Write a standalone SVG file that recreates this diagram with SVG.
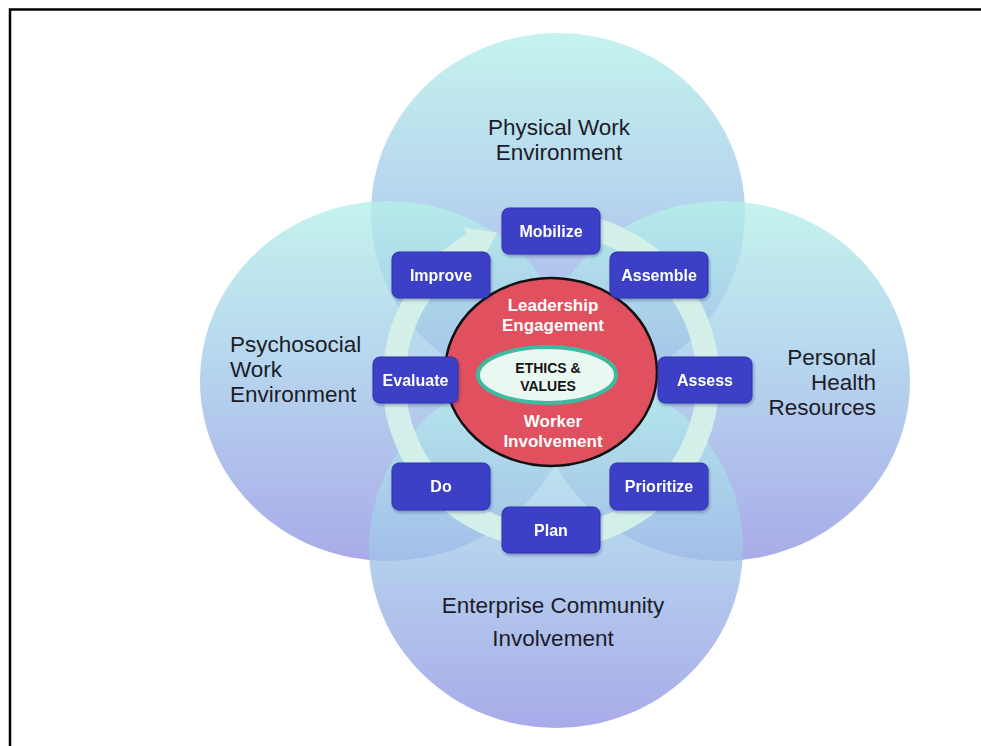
<svg xmlns="http://www.w3.org/2000/svg" width="981" height="746" viewBox="0 0 981 746">
  <style>
    .circ { fill-opacity: 0.8; }
    .lbl { font-family: "Liberation Sans", Arial, sans-serif; font-size: 22.5px; fill: #1c1c28; }
    .box rect { fill: #3a40c6; stroke: #2e33a8; stroke-width: 1; }
    .box text { font-family: "Liberation Sans", Arial, sans-serif; font-size: 16px; font-weight: bold; fill: #ffffff; text-anchor: middle; }
    .ctr { font-family: "Liberation Sans", Arial, sans-serif; font-size: 17px; font-weight: bold; fill: #ffffff; text-anchor: middle; }
    .eth { font-family: "Liberation Sans", Arial, sans-serif; font-size: 14px; font-weight: bold; fill: #141414; text-anchor: middle; }
  </style>
  <defs>
    <linearGradient id="cg" x1="0" y1="0" x2="0" y2="1">
      <stop offset="0" stop-color="#b6f0e9"/>
      <stop offset="0.45" stop-color="#a4cbea"/>
      <stop offset="1" stop-color="#9396e3"/>
    </linearGradient>
    <filter id="sh" x="-10%" y="-10%" width="130%" height="140%">
      <feDropShadow dx="1" dy="2" stdDeviation="1.5" flood-color="#1a2060" flood-opacity="0.35"/>
    </filter>
  </defs>
  <rect x="0" y="0" width="981" height="746" fill="#ffffff"/>
  <path d="M10,748 L10,9.5 L983,9.5" fill="none" stroke="#000000" stroke-width="2.5"/>

  <g id="physical">
    <ellipse class="circ" cx="558" cy="213" rx="187" ry="180" fill="url(#cg)"/>
  </g>
  <g id="psychosocial">
    <ellipse class="circ" cx="388" cy="381" rx="188" ry="180" fill="url(#cg)"/>
  </g>
  <g id="personal">
    <ellipse class="circ" cx="722" cy="381" rx="188" ry="180" fill="url(#cg)"/>
  </g>
  <g id="enterprise">
    <ellipse class="circ" cx="556" cy="548" rx="187" ry="180" fill="url(#cg)"/>
  </g>

  <g id="circle-labels">
    <text class="lbl" x="559" y="135" text-anchor="middle">Physical Work</text>
    <text class="lbl" x="559" y="160" text-anchor="middle">Environment</text>
    <text class="lbl" x="230" y="352">Psychosocial</text>
    <text class="lbl" x="230" y="377">Work</text>
    <text class="lbl" x="230" y="402">Environment</text>
    <text class="lbl" x="876" y="365" text-anchor="end">Personal</text>
    <text class="lbl" x="876" y="390" text-anchor="end">Health</text>
    <text class="lbl" x="876" y="415" text-anchor="end">Resources</text>
    <text class="lbl" x="553" y="613" text-anchor="middle">Enterprise Community</text>
    <text class="lbl" x="553" y="646" text-anchor="middle">Involvement</text>
  </g>

  <g id="connectors">
    <!-- cycle ring: clockwise circular arrow, center (551,380), r=157 -->
    <path d="M564.7,223.6 A157,157 0 1 1 472.5,244" fill="none" stroke="#d6f2e8" stroke-opacity="0.92" stroke-width="23"/>
    <polygon points="463,227.6 482,260.5 497.3,232.5" fill="#d6f2e8" fill-opacity="0.92"/>
  </g>

  <g id="center">
    <ellipse cx="551" cy="372" rx="106" ry="94" fill="#e0505e" stroke="#111111" stroke-width="2.5"/>
    <text class="ctr" x="553" y="311">Leadership</text>
    <text class="ctr" x="553" y="331">Engagement</text>
    <text class="ctr" x="553" y="427">Worker</text>
    <text class="ctr" x="553" y="447">Involvement</text>
  </g>
  <g id="ethics">
    <ellipse cx="547" cy="375" rx="69" ry="28" fill="#eaf8f2" stroke="#3fb9a0" stroke-width="4"/>
    <text class="eth" x="548" y="373">ETHICS &amp;</text>
    <text class="eth" x="548" y="391">VALUES</text>
  </g>

  <g id="mobilize" class="box" filter="url(#sh)">
    <rect x="502" y="208" width="98" height="46" rx="7"/>
    <text x="551" y="237">Mobilize</text>
  </g>
  <g id="improve" class="box" filter="url(#sh)">
    <rect x="392" y="252" width="98" height="46" rx="7"/>
    <text x="441" y="281">Improve</text>
  </g>
  <g id="assemble" class="box" filter="url(#sh)">
    <rect x="610" y="252" width="98" height="46" rx="7"/>
    <text x="659" y="281">Assemble</text>
  </g>
  <g id="evaluate" class="box" filter="url(#sh)">
    <rect x="373" y="357" width="85" height="46" rx="7"/>
    <text x="415.5" y="386">Evaluate</text>
  </g>
  <g id="assess" class="box" filter="url(#sh)">
    <rect x="658" y="357" width="94" height="46" rx="7"/>
    <text x="705" y="386">Assess</text>
  </g>
  <g id="do" class="box" filter="url(#sh)">
    <rect x="392" y="463" width="98" height="47" rx="7"/>
    <text x="441" y="492">Do</text>
  </g>
  <g id="prioritize" class="box" filter="url(#sh)">
    <rect x="610" y="463" width="98" height="47" rx="7"/>
    <text x="659" y="492">Prioritize</text>
  </g>
  <g id="plan" class="box" filter="url(#sh)">
    <rect x="502" y="507" width="98" height="46" rx="7"/>
    <text x="551" y="536">Plan</text>
  </g>
</svg>
